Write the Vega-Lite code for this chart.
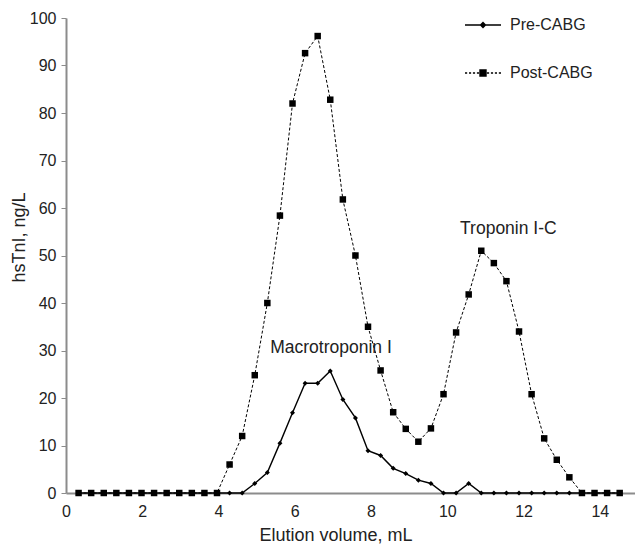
{
  "$schema": "https://vega.github.io/schema/vega-lite/v6.json",
  "width": 572,
  "height": 475,
  "autosize": {"type": "none"},
  "padding": {"left": 66, "top": 18, "right": 0, "bottom": 52},
  "background": "white",
  "config": {
    "view": {"stroke": null},
    "font": "Liberation Sans",
    "axis": {
      "grid": false,
      "domainColor": "#8c8c8c",
      "domainWidth": 2,
      "tickColor": "#8c8c8c",
      "labelFontSize": 16,
      "labelColor": "#222",
      "titleFontSize": 18,
      "titleFontWeight": "normal",
      "titleColor": "#222"
    }
  },
  "datasets": {
    "tn": [
      {"v": 0.33, "s": "Pre-CABG", "y": 0}, {"v": 0.66, "s": "Pre-CABG", "y": 0}, {"v": 0.99, "s": "Pre-CABG", "y": 0},
      {"v": 1.32, "s": "Pre-CABG", "y": 0}, {"v": 1.65, "s": "Pre-CABG", "y": 0}, {"v": 1.98, "s": "Pre-CABG", "y": 0},
      {"v": 2.31, "s": "Pre-CABG", "y": 0}, {"v": 2.64, "s": "Pre-CABG", "y": 0}, {"v": 2.97, "s": "Pre-CABG", "y": 0},
      {"v": 3.3, "s": "Pre-CABG", "y": 0}, {"v": 3.63, "s": "Pre-CABG", "y": 0}, {"v": 3.96, "s": "Pre-CABG", "y": 0},
      {"v": 4.29, "s": "Pre-CABG", "y": 0}, {"v": 4.62, "s": "Pre-CABG", "y": 0}, {"v": 4.95, "s": "Pre-CABG", "y": 2},
      {"v": 5.28, "s": "Pre-CABG", "y": 4.3}, {"v": 5.61, "s": "Pre-CABG", "y": 10.5}, {"v": 5.94, "s": "Pre-CABG", "y": 16.9},
      {"v": 6.27, "s": "Pre-CABG", "y": 23.1}, {"v": 6.6, "s": "Pre-CABG", "y": 23.1}, {"v": 6.93, "s": "Pre-CABG", "y": 25.7},
      {"v": 7.26, "s": "Pre-CABG", "y": 19.7}, {"v": 7.59, "s": "Pre-CABG", "y": 15.8}, {"v": 7.92, "s": "Pre-CABG", "y": 8.9},
      {"v": 8.25, "s": "Pre-CABG", "y": 7.9}, {"v": 8.58, "s": "Pre-CABG", "y": 5.2}, {"v": 8.91, "s": "Pre-CABG", "y": 4.1},
      {"v": 9.24, "s": "Pre-CABG", "y": 2.7}, {"v": 9.57, "s": "Pre-CABG", "y": 2}, {"v": 9.9, "s": "Pre-CABG", "y": 0},
      {"v": 10.23, "s": "Pre-CABG", "y": 0}, {"v": 10.56, "s": "Pre-CABG", "y": 2}, {"v": 10.89, "s": "Pre-CABG", "y": 0},
      {"v": 11.22, "s": "Pre-CABG", "y": 0}, {"v": 11.55, "s": "Pre-CABG", "y": 0}, {"v": 11.88, "s": "Pre-CABG", "y": 0},
      {"v": 12.21, "s": "Pre-CABG", "y": 0}, {"v": 12.54, "s": "Pre-CABG", "y": 0}, {"v": 12.87, "s": "Pre-CABG", "y": 0},
      {"v": 13.2, "s": "Pre-CABG", "y": 0}, {"v": 13.53, "s": "Pre-CABG", "y": 0}, {"v": 13.86, "s": "Pre-CABG", "y": 0},
      {"v": 14.19, "s": "Pre-CABG", "y": 0}, {"v": 14.52, "s": "Pre-CABG", "y": 0},
      {"v": 0.33, "s": "Post-CABG", "y": 0}, {"v": 0.66, "s": "Post-CABG", "y": 0}, {"v": 0.99, "s": "Post-CABG", "y": 0},
      {"v": 1.32, "s": "Post-CABG", "y": 0}, {"v": 1.65, "s": "Post-CABG", "y": 0}, {"v": 1.98, "s": "Post-CABG", "y": 0},
      {"v": 2.31, "s": "Post-CABG", "y": 0}, {"v": 2.64, "s": "Post-CABG", "y": 0}, {"v": 2.97, "s": "Post-CABG", "y": 0},
      {"v": 3.3, "s": "Post-CABG", "y": 0}, {"v": 3.63, "s": "Post-CABG", "y": 0}, {"v": 3.96, "s": "Post-CABG", "y": 0},
      {"v": 4.29, "s": "Post-CABG", "y": 6}, {"v": 4.62, "s": "Post-CABG", "y": 12}, {"v": 4.95, "s": "Post-CABG", "y": 24.8},
      {"v": 5.28, "s": "Post-CABG", "y": 40}, {"v": 5.61, "s": "Post-CABG", "y": 58.4}, {"v": 5.94, "s": "Post-CABG", "y": 82},
      {"v": 6.27, "s": "Post-CABG", "y": 92.6}, {"v": 6.6, "s": "Post-CABG", "y": 96.2}, {"v": 6.93, "s": "Post-CABG", "y": 82.8},
      {"v": 7.26, "s": "Post-CABG", "y": 61.8}, {"v": 7.59, "s": "Post-CABG", "y": 50}, {"v": 7.92, "s": "Post-CABG", "y": 35},
      {"v": 8.25, "s": "Post-CABG", "y": 25.8}, {"v": 8.58, "s": "Post-CABG", "y": 17}, {"v": 8.91, "s": "Post-CABG", "y": 13.5},
      {"v": 9.24, "s": "Post-CABG", "y": 10.8}, {"v": 9.57, "s": "Post-CABG", "y": 13.6}, {"v": 9.9, "s": "Post-CABG", "y": 20.8},
      {"v": 10.23, "s": "Post-CABG", "y": 33.8}, {"v": 10.56, "s": "Post-CABG", "y": 41.8}, {"v": 10.89, "s": "Post-CABG", "y": 51},
      {"v": 11.22, "s": "Post-CABG", "y": 48.4}, {"v": 11.55, "s": "Post-CABG", "y": 44.6}, {"v": 11.88, "s": "Post-CABG", "y": 34},
      {"v": 12.21, "s": "Post-CABG", "y": 20.8}, {"v": 12.54, "s": "Post-CABG", "y": 11.5}, {"v": 12.87, "s": "Post-CABG", "y": 7},
      {"v": 13.2, "s": "Post-CABG", "y": 3.3}, {"v": 13.53, "s": "Post-CABG", "y": 0}, {"v": 13.86, "s": "Post-CABG", "y": 0},
      {"v": 14.19, "s": "Post-CABG", "y": 0}, {"v": 14.52, "s": "Post-CABG", "y": 0}
    ],
    "notes": [
      {"v": 6.95, "y": 30.6, "label": "Macrotroponin I"},
      {"v": 11.6, "y": 55.6, "label": "Troponin I-C"}
    ]
  },
  "encoding": {
    "x": {
      "field": "v", "type": "quantitative",
      "scale": {"domain": [0, 15], "nice": false},
      "axis": {
        "title": "Elution volume, mL",
        "values": [0, 2, 4, 6, 8, 10, 12, 14],
        "ticks": false, "tickSize": 0,
        "labelPadding": 10,
        "labelFlush": false,
        "titleX": 269.5, "titleY": 42, "titleBaseline": "middle"
      }
    },
    "y": {
      "field": "y", "type": "quantitative",
      "scale": {"domain": [0, 100], "nice": false},
      "axis": {
        "title": "hsTnI, ng/L",
        "values": [0, 10, 20, 30, 40, 50, 60, 70, 80, 90, 100],
        "tickSize": 5, "labelPadding": 5,
        "labelFlush": false,
        "titleX": -38, "titleY": 219
      }
    }
  },
  "layer": [
    {
      "data": {"name": "tn"},
      "transform": [{"filter": "datum.s === 'Pre-CABG'"}],
      "mark": {"type": "line", "color": "black", "strokeWidth": 1.4},
      "encoding": {}
    },
    {
      "data": {"name": "tn"},
      "transform": [{"filter": "datum.s === 'Post-CABG'"}],
      "mark": {"type": "line", "color": "black", "strokeWidth": 1, "strokeDash": [3, 2]},
      "encoding": {}
    },
    {
      "data": {"name": "tn"},
      "transform": [{"filter": "datum.s === 'Pre-CABG'"}],
      "mark": {"type": "point", "shape": "diamond", "filled": true, "color": "black", "size": 25, "opacity": 1}
    },
    {
      "data": {"name": "tn"},
      "transform": [{"filter": "datum.s === 'Post-CABG'"}],
      "mark": {"type": "point", "shape": "square", "filled": true, "color": "black", "size": 42, "opacity": 1}
    },
    {
      "data": {"name": "tn"},
      "mark": {"type": "point", "filled": false, "stroke": "black", "strokeWidth": 1.2, "opacity": 0.001, "size": 4},
      "encoding": {
        "shape": {
          "field": "s", "type": "nominal",
          "scale": {
            "domain": ["Pre-CABG", "Post-CABG"],
            "range": [
              "M-1,0H1M-0.14,0L0,-0.14L0.14,0L0,0.14ZM-0.07,-0.07H0.07M-0.07,0.07H0.07",
              "M-1,0H-0.88M-0.78,0H-0.66M-0.56,0H-0.44M-0.34,0H-0.22M0.22,0H0.34M0.44,0H0.56M0.66,0H0.78M0.88,0H1M-0.17,-0.17H0.17V0.17H-0.17ZM-0.17,-0.1H0.17M-0.17,-0.034H0.17M-0.17,0.034H0.17M-0.17,0.1H0.17"
            ]
          },
          "legend": {
            "orient": "none", "legendX": 398, "legendY": -12,
            "title": null,
            "symbolOpacity": 1, "symbolSize": 1296,
            "symbolStrokeWidth": 1.3, "symbolStrokeColor": "black", "symbolFillColor": "black",
            "labelFontSize": 16, "labelColor": "#222", "labelOffset": 8,
            "rowPadding": 21
          }
        }
      }
    },
    {
      "data": {"name": "notes"},
      "mark": {"type": "text", "fontSize": 17.5, "align": "center", "baseline": "middle", "color": "#222"},
      "encoding": {"text": {"field": "label"}}
    }
  ]
}
